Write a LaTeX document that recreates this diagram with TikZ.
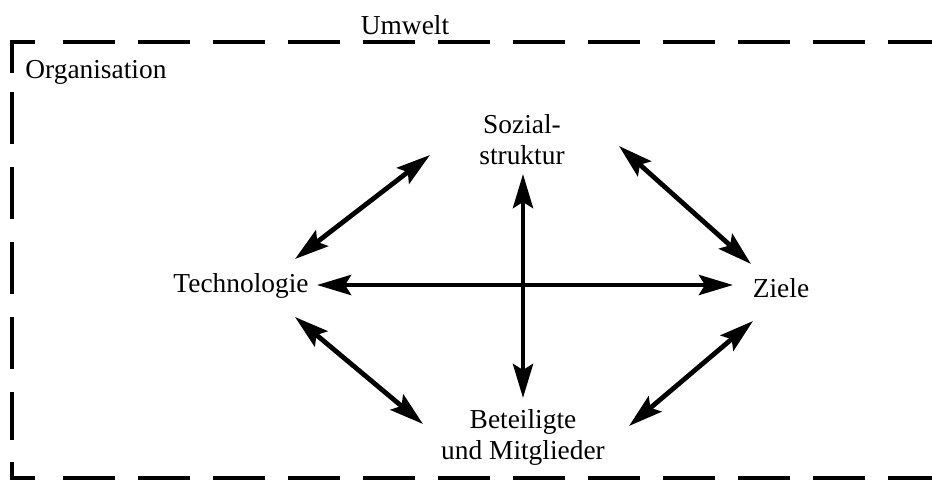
\documentclass[tikz,border=0pt]{standalone}
\usepackage{fontspec}
\setmainfont{Liberation Serif}
\usetikzlibrary{arrows.meta}
\begin{document}
\begin{tikzpicture}[x=0.5pt,y=-0.5pt,
  lbl/.style={font=\fontsize{13.7}{15.5}\selectfont, inner sep=0pt, align=center},
  frame/.style={line width=2.4pt, dash pattern=on 26pt off 11.5pt},
  framesolid/.style={line width=2.4pt},
  tip/.tip={Stealth[length=17pt,width=10pt,inset=3pt]},
  biarrow/.style={line width=2.4pt, tip-tip},
  onearrow/.style={line width=2.4pt, -tip}]
\useasboundingbox (0,0) rectangle (932,483);
% frame
\draw[framesolid] (12,73) -- (12,42) -- (35,42);
\draw[frame] (63,42) -- (960,42);
\draw[frame] (12,92) -- (12,440);
\draw[framesolid] (12,462) -- (12,478) -- (35,478);
\draw[frame] (63,478) -- (960,478);
% labels
\node[lbl] (umwelt) at (405,25) {Umwelt};
\node[lbl, anchor=west] (org) at (25,72) {Organisation};
\node[lbl] (sozial) at (522,140) {Sozial-\\struktur};
\node[lbl] (tech) at (241,286) {Technologie};
\node[lbl] (ziele) at (781,288) {Ziele};
\node[lbl] (bet) at (523,437) {Beteiligte\\und Mitglieder};
% arrow endpoints
\coordinate (ul1) at (430,155);
\coordinate (ul2) at (295,259);
\coordinate (ur1) at (619,146);
\coordinate (ur2) at (751,264);
\coordinate (ll1) at (295,317);
\coordinate (ll2) at (423,424);
\coordinate (lr1) at (753,321);
\coordinate (lr2) at (629,426);
\coordinate (hl) at (317,285);
\coordinate (hr) at (733,285);
\coordinate (vt) at (523,174);
\coordinate (vb) at (523,398);
\coordinate (cross) at (523,285);
% arrows
\draw[biarrow] (ul1) -- (ul2);
\draw[biarrow] (ur1) -- (ur2);
\draw[biarrow] (ll1) -- (ll2);
\draw[biarrow] (lr1) -- (lr2);
\draw[biarrow] (hl) -- (hr);
\draw[onearrow] (cross) -- (vt);
\draw[onearrow] (cross) -- (vb);
\end{tikzpicture}
\end{document}
